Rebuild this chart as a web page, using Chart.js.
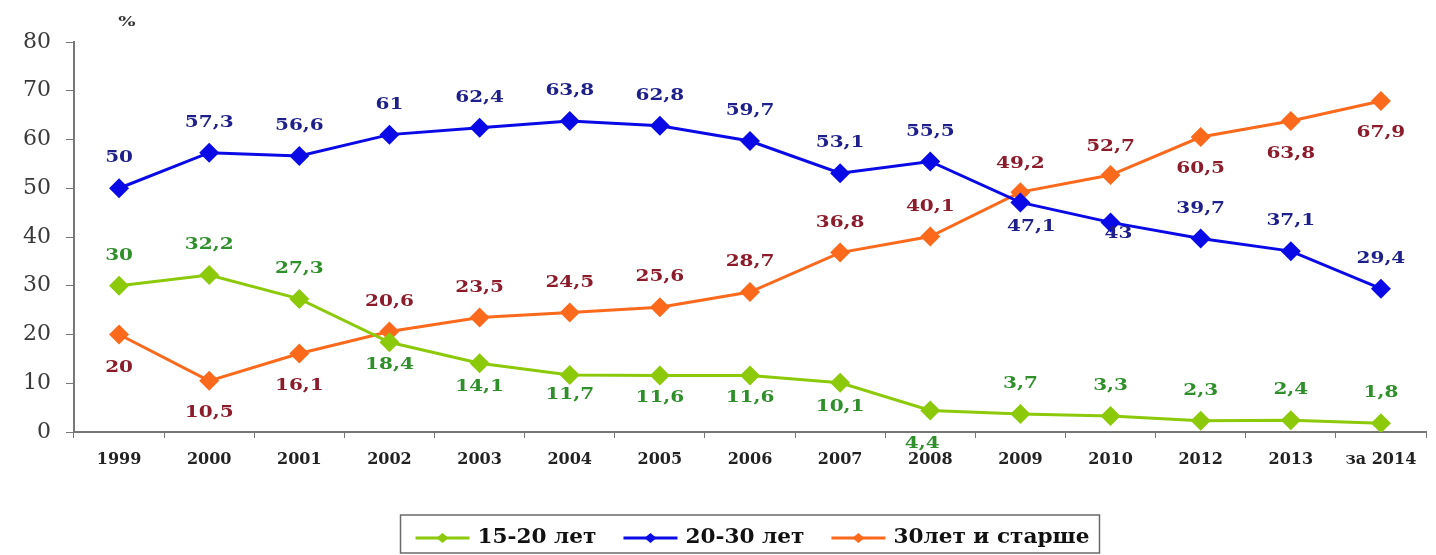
<!DOCTYPE html>
<html>
<head>
<meta charset="utf-8">
<script src="https://cdn.jsdelivr.net/npm/chart.js@4"></script>
<style>
  html, body { margin: 0; padding: 0; background: #fff; }
  #wrap { width: 1436px; height: 555px; }
</style>
</head>
<body>
<div id="wrap"><canvas id="chart" width="1436" height="555"></canvas></div>
<script>
// data
const years = ["1999", "2000", "2001", "2002", "2003", "2004", "2005", "2006", "2007", "2008", "2009", "2010", "2012", "2013", "за 2014"];
const age15to20 = [30, 32.2, 27.3, 18.4, 14.1, 11.7, 11.6, 11.6, 10.1, 4.4, 3.7, 3.3, 2.3, 2.4, 1.8];
const age20to30 = [50, 57.3, 56.6, 61, 62.4, 63.8, 62.8, 59.7, 53.1, 55.5, 47.1, 43, 39.7, 37.1, 29.4];
const age30plus = [20, 10.5, 16.1, 20.6, 23.5, 24.5, 25.6, 28.7, 36.8, 40.1, 49.2, 52.7, 60.5, 63.8, 67.9];
const seriesNames = ["15-20 лет", "20-30 лет", "30лет и старше"];
const yTicks = [0, 10, 20, 30, 40, 50, 60, 70, 80];

const SERIF = "'DejaVu Serif', 'Liberation Serif', serif";

// where each value label sits relative to its marker: [dx, dy]
const labelOffsets = [
    [[0,-30],[0,-30],[0,-30],[0,23],[0,24],[0,20],[0,22],[0,22],[0,24],[-8,33],[0,-30],[0,-30],[0,-30],[0,-30],[0,-30]],
    [[0,-30],[0,-30],[0,-30],[0,-30],[0,-30],[0,-30],[0,-30],[0,-30],[0,-30],[0,-30],[11,24],[8,11],[0,-30],[0,-30],[0,-30]],
    [[0,33],[0,32],[0,32],[0,-30],[0,-30],[0,-30],[0,-30],[0,-30],[0,-30],[0,-30],[0,-28],[0,-28],[0,32],[0,33],[0,32]]
];
const labelColors = ["#2f8f2a", "#1f1f8c", "#8c1c2c"];

// text in the original is stretched sideways, so draw it a bit wider
function wideText(ctx, txt, x, y, sx) {
    ctx.save();
    ctx.translate(x, y);
    ctx.scale(sx, 1);
    ctx.fillText(txt, 0, 0);
    ctx.restore();
}

const valueLabels = {
    id: 'valueLabels',
    afterDatasetsDraw(chart) {
        const ctx = chart.ctx;
        ctx.save();
        ctx.font = "bold 16px " + SERIF;
        ctx.textAlign = "center";
        ctx.textBaseline = "middle";
        chart.data.datasets.forEach((ds, i) => {
            const meta = chart.getDatasetMeta(i);
            ctx.fillStyle = labelColors[i];
            meta.data.forEach((pt, j) => {
                const off = labelOffsets[i][j];
                const txt = String(ds.data[j]).replace(".", ",");
                wideText(ctx, txt, pt.x + off[0], pt.y + off[1], 1.25);
            });
        });
        ctx.restore();
    }
};

// "%" caption and boxed legend under the chart
const extras = {
    id: 'extras',
    afterDraw(chart) {
        const ctx = chart.ctx;
        ctx.save();
        ctx.fillStyle = "#333";
        ctx.font = "bold 13px " + SERIF;
        ctx.textAlign = "center";
        ctx.textBaseline = "middle";
        wideText(ctx, "%", 127, 23, 1.4);

        ctx.font = "bold 20px " + SERIF;
        const sx = 1.08;
        const lineW = 54, gapAfterLine = 8, gapItems = 27, padL = 15, padR = 10;
        const items = chart.data.datasets.map(ds => ({
            label: ds.label, color: ds.borderColor, w: ctx.measureText(ds.label).width * sx
        }));
        let total = padL + padR;
        items.forEach((it, k) => {
            total += lineW + gapAfterLine + it.w + (k < items.length - 1 ? gapItems : 0);
        });
        const cx = 750, top = 515, h = 38;
        let x = cx - total / 2;
        ctx.strokeStyle = "#6a6a6a";
        ctx.lineWidth = 1.5;
        ctx.strokeRect(x, top, total, h);
        const y = top + h / 2 + 4;
        x += padL;
        items.forEach(it => {
            ctx.strokeStyle = it.color;
            ctx.lineWidth = 3;
            ctx.beginPath();
            ctx.moveTo(x, y);
            ctx.lineTo(x + lineW, y);
            ctx.stroke();
            ctx.fillStyle = it.color;
            const mx = x + lineW / 2;
            ctx.beginPath();
            ctx.moveTo(mx, y - 5);
            ctx.lineTo(mx + 6, y);
            ctx.lineTo(mx, y + 5);
            ctx.lineTo(mx - 6, y);
            ctx.closePath();
            ctx.fill();
            x += lineW + gapAfterLine;
            ctx.fillStyle = "#111";
            ctx.textAlign = "left";
            wideText(ctx, it.label, x, y, sx);
            x += it.w + gapItems;
        });
        ctx.restore();
    }
};

function makeSeries(label, values, color) {
    return {
        label: label,
        data: values,
        borderColor: color,
        backgroundColor: color,
        borderWidth: 3,
        pointStyle: 'rectRot',
        pointRadius: 10,
        pointHoverRadius: 10,
        pointBorderWidth: 0,
        tension: 0
    };
}

new Chart(document.getElementById('chart').getContext('2d'), {
    type: 'line',
    data: {
        labels: years,
        datasets: [
            makeSeries(seriesNames[0], age15to20, "#8cc90a"),
            makeSeries(seriesNames[1], age20to30, "#0a0ae6"),
            makeSeries(seriesNames[2], age30plus, "#fb6a1c")
        ]
    },
    options: {
        responsive: false,
        animation: false,
        layout: { padding: { left: 0, right: 5, top: 42, bottom: 0 } },
        plugins: {
            legend: { display: false },
            tooltip: { enabled: false }
        },
        scales: {
            x: {
                offset: true,
                afterFit(scale) { scale.height = 123; },
                grid: {
                    offset: true,
                    drawOnChartArea: false,
                    drawTicks: true,
                    tickLength: 6,
                    color: "#777"
                },
                border: { color: "#777", width: 2 },
                ticks: {
                    color: "#222",
                    font: { family: SERIF, size: 16, weight: 'bold' },
                    padding: 12,
                    maxRotation: 0,
                    autoSkip: false
                }
            },
            y: {
                min: yTicks[0],
                max: yTicks[yTicks.length - 1],
                afterFit(scale) { scale.width = 74; },
                afterBuildTicks(scale) {
                    scale.ticks = yTicks.map(v => ({ value: v }));
                },
                grid: {
                    drawOnChartArea: false,
                    drawTicks: true,
                    tickLength: 8,
                    color: "#777"
                },
                border: { color: "#777", width: 2 },
                ticks: {
                    color: "#3a3a3a",
                    font: { family: SERIF, size: 22 },
                    padding: 15
                }
            }
        }
    },
    plugins: [valueLabels, extras]
});
</script>
</body>
</html>
